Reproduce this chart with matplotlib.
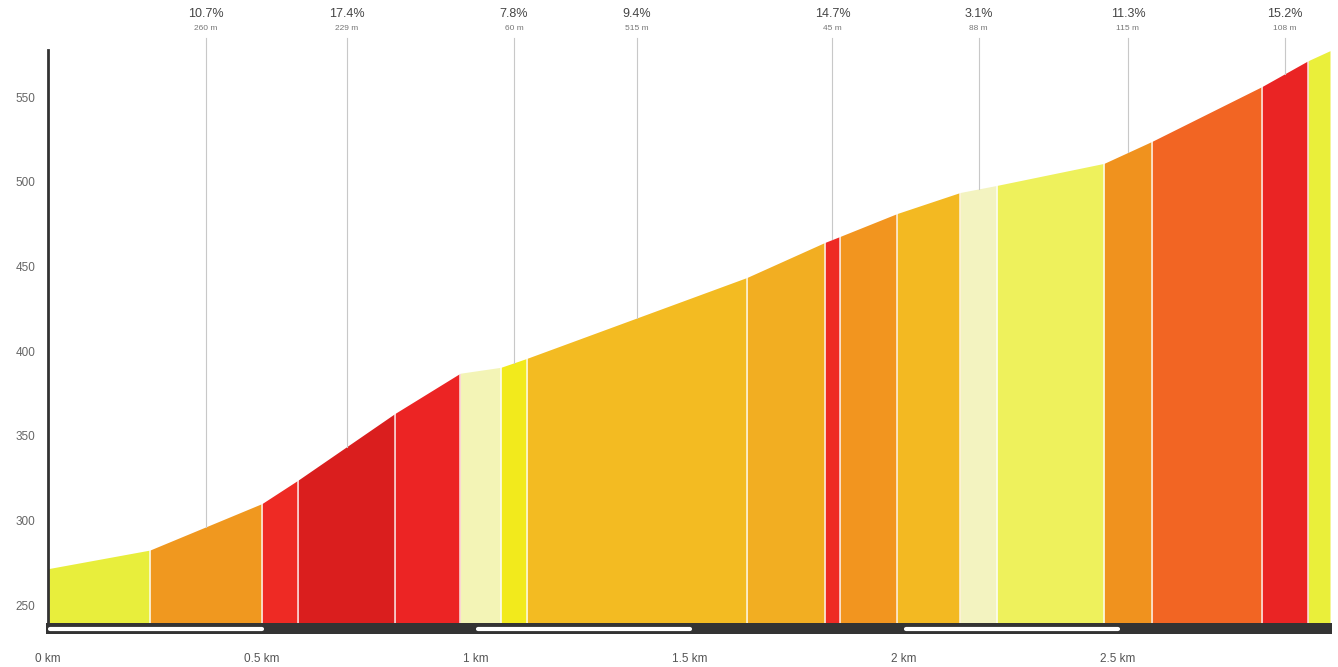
import matplotlib.pyplot as plt
import numpy as np

plt.rcParams['font.family'] = ['Liberation Sans', 'DejaVu Sans']

# segment boundaries (km) and elevation (m) at each boundary
dist_km = [0.0, 0.238, 0.5, 0.584, 0.811, 0.963, 1.058, 1.119, 1.633, 1.815,
           1.850, 1.984, 2.131, 2.217, 2.467, 2.579, 2.836, 2.944, 2.995]
elev_m = [271.5, 282.5, 310.0, 323.8, 363.3, 387.0, 390.5, 395.8, 443.6, 464.3,
          467.8, 481.4, 493.8, 498.0, 511.0, 524.0, 556.4, 571.7, 577.6]
seg_colors = ['#e8ee3c', '#f0981f', '#ee2a24', '#da1e1e', '#ec2424', '#f3f4b6',
              '#f2ea1c', '#f3bb22', '#f2ae22', '#ee2a24', '#f2951f', '#f3b922',
              '#f3f3c0', '#eef15c', '#f0921e', '#f26523', '#ea2424', '#eaef3a']

# annotated segments (index) with grade and length
note_seg = [1, 3, 6, 7, 9, 12, 14, 16]
note_grade = ['10.7%', '17.4%', '7.8%', '9.4%', '14.7%', '3.1%', '11.3%', '15.2%']
note_len = ['260 m', '229 m', '60 m', '515 m', '45 m', '88 m', '115 m', '108 m']

xticks = [0, 0.5, 1, 1.5, 2, 2.5]
xtick_labels = ['0 km', '0.5 km', '1 km', '1.5 km', '2 km', '2.5 km']
yticks = [250, 300, 350, 400, 450, 500, 550]

W, H = 1338, 667
fig = plt.figure(figsize=(W / 100, H / 100), dpi=100)
ax = fig.add_axes([48 / W, (H - 623) / H, 1282 / W, 573 / H])
ymin, ymax = 239.4, 578
ax.set_xlim(0, dist_km[-1])
ax.set_ylim(ymin, ymax)

for i in range(len(dist_km) - 1):
    xs = [dist_km[i], dist_km[i + 1]]
    ys = [elev_m[i], elev_m[i + 1]]
    ax.fill_between(xs, ymin, ys, color=seg_colors[i], lw=0)
    if i > 0:
        ax.plot([dist_km[i]] * 2, [ymin, elev_m[i]], color='white', lw=1.2, alpha=0.8)

# annotations
for k, i in enumerate(note_seg):
    xm = (dist_km[i] + dist_km[i + 1]) / 2
    ym = (elev_m[i] + elev_m[i + 1]) / 2
    ax.plot([xm, xm], [ym, 585], color='#c8c8c8', lw=0.8, clip_on=False)
    ax.text(xm, 599, note_grade[k], ha='center', va='center', fontsize=9,
            color='#444444', clip_on=False)
    ax.text(xm, 590.5, note_len[k], ha='center', va='center', fontsize=6,
            color='#777777', clip_on=False)

for s in ['top', 'right', 'bottom']:
    ax.spines[s].set_visible(False)
ax.spines['left'].set_color('#333333')
ax.spines['left'].set_linewidth(2)
ax.set_yticks(yticks)
ax.set_yticklabels([str(v) for v in yticks], fontsize=8.5, color='#666666')
ax.tick_params(axis='y', length=0, pad=9)
ax.set_xticks([])

# scale bar below the profile
bar = fig.add_axes([46 / W, (H - 634) / H, 1286 / W, 11 / H])
bar.set_xlim(-0.005, dist_km[-1] + 0.005)
bar.set_ylim(0, 1)
bar.set_facecolor('#333333')
for s in bar.spines.values():
    s.set_visible(False)
for a in [0, 1, 2]:
    bar.plot([a + 0.005, a + 0.5], [0.5, 0.5], color='white', lw=3,
             solid_capstyle='round')
bar.set_yticks([])
bar.set_xticks(xticks)
bar.set_xticklabels(xtick_labels, fontsize=8.5, color='#555555')
bar.tick_params(axis='x', length=0, pad=14)

fig.savefig('out.png', dpi=100, facecolor='white')
